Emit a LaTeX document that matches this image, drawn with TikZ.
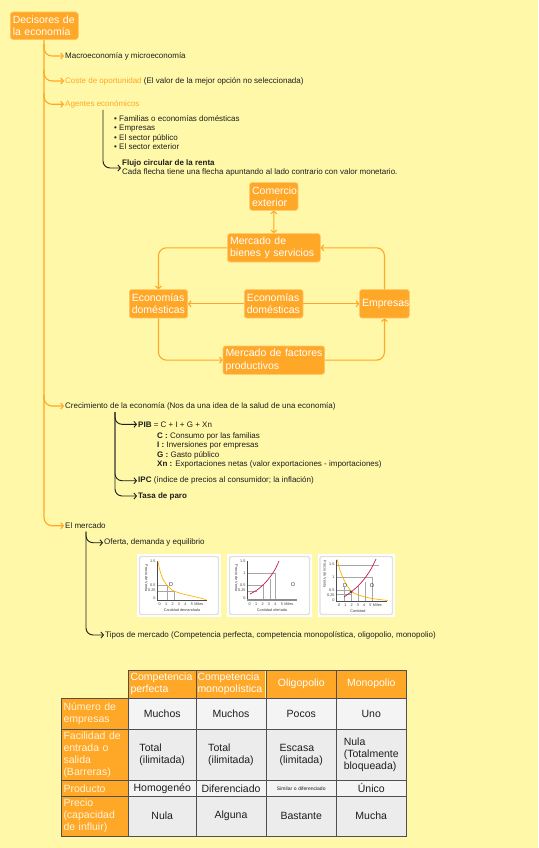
\documentclass[tikz,border=0pt]{standalone}
\usepackage{fontspec}
\setmainfont{Liberation Sans}
\usetikzlibrary{arrows.meta}
\definecolor{bg}{HTML}{FFF8A8}
\definecolor{orng}{HTML}{FFA726}
\definecolor{orngl}{HTML}{FFC66A}
\definecolor{ink}{HTML}{1E1E1E}
\definecolor{cellg}{HTML}{ECECEC}
\definecolor{cellw}{HTML}{F4F4F4}
\definecolor{gridc}{HTML}{505050}
\definecolor{labtxt}{HTML}{FFF4DA}
\definecolor{supred}{HTML}{C2185B}
\definecolor{demyel}{HTML}{FFB300}
\tikzset{
  mm/.style={font=\fontsize{8}{9.1}\selectfont, text=ink, inner sep=1pt, anchor=west, align=left},
  obr/.style={draw=orng, line width=1.1pt, rounded corners=8pt, -{Straight Barb[length=2.5pt,width=6pt]}},
  kbr/.style={draw=ink, line width=0.9pt, rounded corners=7pt, -{Straight Barb[length=2.5pt,width=6pt]}},
  flowbox/.style={fill=orng, draw=orngl, line width=0.6pt, rounded corners=2.5pt, text=white,
    font=\fontsize{10.5}{12.3}\selectfont, align=left, inner xsep=2.5pt, inner ysep=0pt, anchor=north west},
  farrow/.style={draw=orng, line width=1.1pt, rounded corners=8pt, -{Straight Barb[length=2.5pt,width=6pt]}},
  tiny/.style={font=\fontsize{3.8}{4}\selectfont, text=black!75, inner sep=0.3pt},
  axis/.style={draw=black!70, line width=0.5pt},
  guide/.style={draw=black!35, line width=0.3pt},
  tcell/.style={anchor=north west, inner xsep=2pt, inner ysep=0pt, outer sep=0pt, font=\fontsize{10.5}{12}\selectfont},
  thead/.style={tcell, fill=orng, text=white},
  tlab/.style={tcell, fill=orng, text=labtxt, align=left},
  tbody/.style={tcell, fill=cellg, text=ink, align=center},
}
\begin{document}
\begin{tikzpicture}[x=1pt,y=-1pt]
\fill[bg] (0,0) rectangle (538,848);
\useasboundingbox (0,0) rectangle (538,848);

% ---------- root and main branches ----------
\node[fill=orng, draw=orngl, line width=0.6pt, rounded corners=3pt, text=white, anchor=north west,
  font=\fontsize{10.5}{12.3}\selectfont, align=left, inner xsep=2.5pt, inner ysep=0pt,
  text width=63pt, minimum height=27.6pt] (root) at (10,11.7) {Decisores de\\la economía};
\coordinate (spx) at (44,0);

\node[mm] (macro) at (64,56) {Macroeconomía y microeconomía};
\node[mm] (coste) at (64,81) {\textcolor{orng}{Coste de oportunidad} (El valor de la mejor opción no seleccionada)};
\node[mm, text=orng] (agentes) at (64,104.3) {Agentes económicos};
\node[mm] (crec) at (64,406) {Crecimiento de la economía (Nos da una idea de la salud de una economía)};
\node[mm] (merc) at (64,525.7) {El mercado};

\draw[obr] (root.south -| spx) |- (merc.west);
\draw[obr] (44,44) |- (macro.west);
\draw[obr] (44,70) |- (coste.west);
\draw[obr] (44,93) |- (agentes.west);
\draw[obr] (44,395) |- (crec.west);

% ---------- agentes ----------
\node[mm] (lista) at (113,132.6) {%
\textbullet\hspace{2.2pt}Familias o economías domésticas\\
\textbullet\hspace{2.2pt}Empresas\\
\textbullet\hspace{2.2pt}El sector público\\
\textbullet\hspace{2.2pt}El sector exterior};
\node[mm] (flujo) at (121,168) {\textbf{Flujo circular de la renta}\\Cada flecha tiene una flecha apuntando al lado contrario con valor monetario.};
\draw[kbr] (103,110) |- (flujo.west);

% ---------- flujo circular ----------
\node[flowbox, text width=43.4pt, minimum height=27.7pt] (ce) at (249.3,182.3) {Comercio\\exterior};
\node[flowbox, text width=87.7pt, minimum height=28.4pt] (mb) at (227.3,233.3) {Mercado de\\bienes y servicios};
\node[flowbox, text width=53.3pt, minimum height=28.4pt] (edl) at (129,289.3) {Economías\\domésticas};
\node[flowbox, text width=53.7pt, minimum height=28.4pt] (edc) at (244,289.3) {Economías\\domésticas};
\node[flowbox, text width=44.7pt, minimum height=28.4pt] (emp) at (359.3,289.3) {Empresas};
\node[flowbox, text width=96.6pt, minimum height=28.3pt] (mf) at (222.7,345.7) {\mbox{Mercado de factores}\\productivos};

\draw[draw=orng, line width=1.1pt, {Straight Barb[length=2.5pt,width=6pt]}-{Straight Barb[length=2.5pt,width=6pt]}] (ce.south) -- (mb.north);
\draw[farrow] (mb.west) -| (edl.north);
\draw[farrow] (emp.north) |- (mb.east);
\draw[farrow] (edc.west) -- (edl.east);
\draw[farrow] (edc.east) -- (emp.west);
\draw[farrow] (edl.south) |- (mf.west);
\draw[farrow] (mf.east) -| (emp.south);

% ---------- crecimiento ----------
\node[mm] (pib) at (137,424.3) {\textbf{PIB} = C + I + G + Xn};
\node[mm] (pibl) at (156,450.4) {\textbf{C :} Consumo por las familias\\
\textbf{I :} Inversiones por empresas\\
\textbf{G :} Gasto público\\
\textbf{Xn :} Exportaciones netas (valor exportaciones - importaciones)};
\node[mm] (ipc) at (137,480.7) {\textbf{IPC} (índice de precios al consumidor; la inflación)};
\node[mm] (paro) at (137,496) {\textbf{Tasa de paro}};
\draw[kbr] (115,412) |- (pib.west);
\draw[kbr] (115,412) |- (ipc.west);
\draw[kbr] (115,412) |- (paro.west);

% ---------- mercado ----------
\node[mm] (ofe) at (103,542.7) {Oferta, demanda y equilibrio};
\node[mm] (tipos) at (104,635) {Tipos de mercado (Competencia perfecta, competencia monopolística, oligopolio, monopolio)};
\draw[kbr] (86,531.7) |- (ofe.west);
\draw[kbr] (86,531.7) |- (tipos.west);

% ---------- chart 1 ----------
\fill[white] (137,554) rectangle (221,617);
\draw[black!12, line width=1.3pt, rounded corners=2pt] (139.5,556.5) rectangle (218.5,614.5);
\draw[guide] (157,585) -- (167,585) (157,591) -- (174,591) (167,585) -- (167,600) (174,591) -- (174,600);
\draw[axis, line width=0.9pt] (157,561) -- (157,600);
\draw[axis] (157,600) -- (207,600);
\draw[demyel, line width=0.7pt] plot[smooth] coordinates {(158,561) (159.5,569) (162,577) (166,584) (172,590) (181,593.5) (194,596.5) (206,599.5)};
\node[tiny, anchor=east] (c1a) at (156,561) {1.5};
\node[tiny, anchor=east] (c1b) at (156,585) {0.5};
\node[tiny, anchor=east] (c1c) at (156,590.5) {0.25};
\node[tiny, anchor=east] (c1d) at (156,598) {0};
\node[tiny, rotate=-90] (c1y) at (146.5,578) {Precio de Venta};
\node[tiny] (c1x) at (181,604.3) {0\hspace{4.3pt}1\hspace{4.3pt}2\hspace{4.3pt}3\hspace{4.3pt}4\hspace{4.3pt}5\hspace{1.5pt}Miles};
\node[tiny] (c1t) at (182,610.3) {Cantidad demandada};
\node[font=\fontsize{5.5}{6}\selectfont, text=black!80, inner sep=0pt] (c1D) at (171,584.5) {D};

% ---------- chart 2 ----------
\fill[white] (227,554) rectangle (312,617);
\draw[black!12, line width=1.3pt, rounded corners=2pt] (229.5,556.5) rectangle (309.5,614.5);
\draw[guide] (247,573) -- (275,573) (247,585) -- (263,585) (247,591) -- (257,591) (263,585) -- (263,600) (270,579) -- (270,600) (275,573) -- (275,600);
\draw[axis, line width=0.9pt] (247,561) -- (247,600);
\draw[axis, black!45, line width=1.2pt] (247,600) -- (297,600);
\draw[supred, line width=0.7pt] plot[smooth] coordinates {(250,594) (257,590) (264,584) (270,577) (275,569.5) (279,561)};
\node[tiny, anchor=east] (c2a) at (246,561) {1.5};
\node[tiny, anchor=east] (c2e) at (246,573) {1};
\node[tiny, anchor=east] (c2b) at (246,585) {0.5};
\node[tiny, anchor=east] (c2c) at (246,590.5) {0.25};
\node[tiny, anchor=east] (c2d) at (246,598) {0};
\node[tiny, rotate=-90] (c2y) at (236.5,578) {Precio de Venta};
\node[tiny] (c2x) at (271,604.3) {0\hspace{4.3pt}1\hspace{4.3pt}2\hspace{4.3pt}3\hspace{4.3pt}4\hspace{4.3pt}5\hspace{1.5pt}Miles};
\node[tiny] (c2t) at (272,610.3) {Cantidad ofertada};
\node[font=\fontsize{5.5}{6}\selectfont, text=black!80, inner sep=0pt] (c2O) at (293,584.5) {O};

% ---------- chart 3 ----------
\fill[white] (317.7,554) rectangle (395,617);
\draw[black!12, line width=1.3pt, rounded corners=2pt] (320,556.5) rectangle (392.5,614.5);
\draw[guide] (336,565) -- (379,565) (336,577) -- (372,577) (372,577) -- (372,601) (336,590.5) -- (351,590.5) (336,594) -- (351,594) (351,591) -- (351,601) (344,587) -- (344,601) (358,586) -- (358,601) (365,582) -- (365,601);
\draw[axis, line width=0.8pt] (336,560) -- (336,601) -- (387,601);
\draw[demyel, line width=0.7pt] plot[smooth] coordinates {(337,559) (340,570) (344,580) (351,591) (360,595.5) (372,598.5) (388,600.5)};
\draw[supred, line width=0.7pt] plot[smooth] coordinates {(344,597) (351,592) (358,586) (365,578) (371,569) (376,559)};
\fill[black!70] (351,591.8) circle (1.5pt);
\node[tiny, anchor=east] (c3a) at (335,564.7) {1.5};
\node[tiny, anchor=east] (c3e) at (335,577) {1};
\node[tiny, anchor=east] (c3b) at (335,590.5) {0.5};
\node[tiny, anchor=east] (c3c) at (335,595.3) {0.25};
\node[tiny, anchor=east] (c3d) at (335,600) {0};
\node[tiny, rotate=-90] (c3y) at (325,574) {Precio de Venta};
\node[tiny] (c3x) at (360,605.3) {0\hspace{4.1pt}1\hspace{4.1pt}2\hspace{4.1pt}3\hspace{4.1pt}4\hspace{4.1pt}5\hspace{1.5pt}Miles};
\node[tiny] (c3t) at (358,611) {Cantidad};
\node[font=\fontsize{5.5}{6}\selectfont, text=black!80, inner sep=0pt] (c3D) at (345,585.5) {D};
\node[font=\fontsize{5.5}{6}\selectfont, text=black!80, inner sep=0pt] (c3O) at (372,585.5) {O};

% ---------- table ----------
% header
\node[thead, align=left, text width=63.5pt, minimum height=27.5pt] (h1) at (128.5,670.5) {Competencia perfecta};
\node[thead, align=left, text width=66pt, minimum height=27.5pt, inner xsep=1.5pt] (h2) at (196,670.5) {Competencia monopolística};
\node[thead, align=center, text width=66.5pt, minimum height=27.5pt] (h3) at (266,670.5) {Oligopolio};
\node[thead, align=center, text width=65.5pt, minimum height=27.5pt] (h4) at (336.5,670.5) {Monopolio};
% row 1
\node[tlab, text width=63pt, minimum height=31pt] (l1) at (61.5,698) {Número de\\empresas};
\node[tbody, fill=cellw, text width=63.5pt, minimum height=31pt] (b11) at (128.5,698) {Muchos};
\node[tbody, fill=cellw, text width=66pt, minimum height=31pt] (b12) at (196,698) {Muchos};
\node[tbody, fill=cellw, text width=66.5pt, minimum height=31pt] (b13) at (266,698) {Pocos};
\node[tbody, fill=cellw, text width=65.5pt, minimum height=31pt] (b14) at (336.5,698) {Uno};
% row 2
\node[tlab, text width=63pt, minimum height=51.5pt] (l2) at (61.5,729) {Facilidad de\\entrada o\\salida\\(Barreras)};
\node[tbody, text width=63.5pt, minimum height=51.5pt] (b21) at (128.5,729) {\begin{tabular}{@{}l@{}}Total\\(ilimitada)\end{tabular}};
\node[tbody, text width=66pt, minimum height=51.5pt] (b22) at (196,729) {\begin{tabular}{@{}l@{}}Total\\(ilimitada)\end{tabular}};
\node[tbody, text width=66.5pt, minimum height=51.5pt] (b23) at (266,729) {\begin{tabular}{@{}l@{}}Escasa\\(limitada)\end{tabular}};
\node[tbody, text width=65.5pt, minimum height=51.5pt] (b24) at (336.5,729) {\begin{tabular}{@{}l@{}}Nula\\(Totalmente\\bloqueada)\end{tabular}};
% row 3
\node[tlab, text width=63pt, minimum height=15.5pt] (l3) at (61.5,780.5) {Producto};
\node[tbody, fill=cellw, text width=63.5pt, minimum height=15.5pt] (b31) at (128.5,780.5) {Homogenéo};
\node[tbody, fill=cellw, text width=66pt, minimum height=15.5pt] (b32) at (196,780.5) {Diferenciado};
\node[tbody, fill=cellw, text width=66.5pt, minimum height=15.5pt, font=\fontsize{5}{6}\selectfont] (b33) at (266,780.5) {Similar o diferenciado};
\node[tbody, fill=cellw, text width=65.5pt, minimum height=15.5pt] (b34) at (336.5,780.5) {Único};
% row 4
\node[tlab, text width=63pt, minimum height=40pt] (l4) at (61.5,796) {Precio\\(capacidad\\de influir)};
\node[tbody, text width=63.5pt, minimum height=40pt] (b41) at (128.5,796) {Nula};
\node[tbody, text width=66pt, minimum height=40pt] (b42) at (196,796) {Alguna};
\node[tbody, text width=66.5pt, minimum height=40pt] (b43) at (266,796) {Bastante};
\node[tbody, text width=65.5pt, minimum height=40pt] (b44) at (336.5,796) {Mucha};
% grid
\draw[gridc, line width=0.8pt] (128.5,670.5) rectangle (406,836);
\draw[gridc, line width=0.8pt] (61.5,698) rectangle (406,836);
\draw[gridc, line width=0.8pt] (61.5,729) -- (406,729) (61.5,780.5) -- (406,780.5) (61.5,796) -- (406,796)
  (196,670.5) -- (196,836) (266,670.5) -- (266,836) (336.5,670.5) -- (336.5,836);
\end{tikzpicture}
\end{document}
